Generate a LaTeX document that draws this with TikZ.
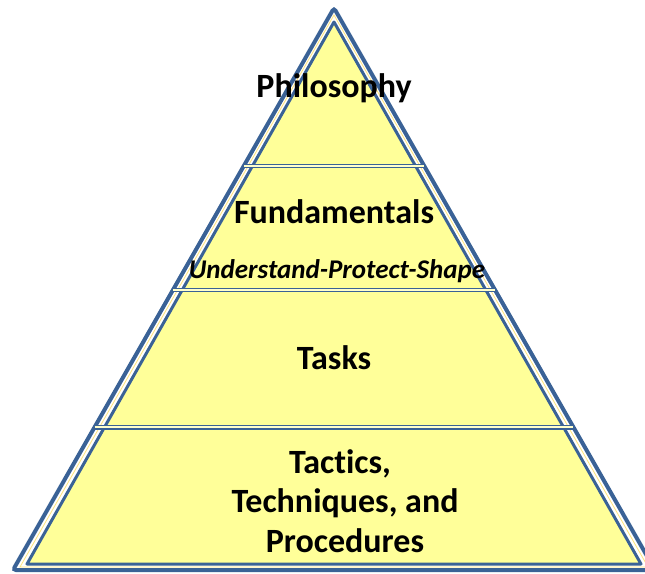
\documentclass[tikz,border=0pt]{standalone}
\usepackage{fontspec}
\setmainfont{Carlito}[RawFeature=-liga]
\usetikzlibrary{positioning, calc}
\definecolor{edgeblue}{RGB}{58,98,150}
\definecolor{layeryellow}{RGB}{255,255,153}

\begin{document}
\begin{tikzpicture}[x=1pt, y=-1pt, thick]
        % Define block styles
        \tikzstyle{level} = [font=\fontsize{34}{39.5}\selectfont\bfseries, align=center, anchor=base, inner sep=0pt]
        \tikzstyle{motto} = [font=\fontsize{27}{30}\selectfont\bfseries\itshape, anchor=base, inner sep=0pt]
        \tikzstyle{divider} = [draw=edgeblue, line width=1.3pt, double=layeryellow!50, double distance=2pt]

        \useasboundingbox (0,0) rectangle (645,573);
        \clip (0,0) rectangle (645,573);

        % Corners of the pyramid
        \coordinate (top) at (334,8);
        \coordinate (left) at (13,570);
        \coordinate (right) at (655,570);
        \coordinate (midtop) at (334,15);
        \coordinate (midleft) at (20,567);
        \coordinate (midright) at (648,567);
        \coordinate (intop) at (334,22);
        \coordinate (inleft) at (27,564);
        \coordinate (inright) at (641,564);

        % Draw the outlines
        \draw [edgeblue, line width=4pt, fill=white, rounded corners=3pt] (top) -- (left) -- (right) -- cycle;
        \draw [layeryellow!80!orange, line width=0.8pt] (midtop) -- (midleft) -- (midright) -- cycle;
        \draw [edgeblue, line width=3pt, fill=layeryellow, line join=round] (intop) -- (inleft) -- (inright) -- cycle;

        % Draw the dividers between levels
        \draw [divider] ($(top)!0.281!(left)$) -- ($(top)!0.281!(right)$);
        \draw [divider] ($(top)!0.502!(left)$) -- ($(top)!0.502!(right)$);
        \draw [divider] ($(top)!0.746!(left)$) -- ($(top)!0.746!(right)$);

        % Place nodes
        \node [level] (philosophy) at (334,97) {Philosophy};
        \node [level] (fundamentals) at (334,223) {Fundamentals};
        \node [motto] (upshape) at (337,278) {Understand-Protect-Shape};
        \node [level] (tasks) at (334,369) {Tasks};
        \node [level] (tactics) at (340,473) {Tactics,};
        \node [level] (techniques) at (345,512) {Techniques, and};
        \node [level] (procedures) at (345,552) {Procedures};

    \end{tikzpicture}
\end{document}
